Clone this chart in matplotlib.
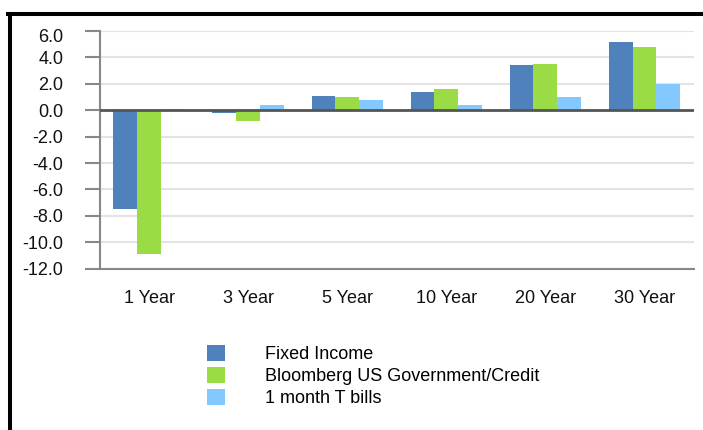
import matplotlib
matplotlib.use("Agg")
import matplotlib.pyplot as plt
import matplotlib.transforms as mtrans
import numpy as np
from matplotlib.lines import Line2D
from matplotlib.patches import Patch

plt.rcParams['font.family'] = ['Liberation Sans', 'DejaVu Sans']

periods = ["1 Year", "3 Year", "5 Year", "10 Year", "20 Year", "30 Year"]
fixed_income = [-7.5, -0.2, 1.1, 1.4, 3.4, 5.2]
gov_credit = [-10.9, -0.8, 1.0, 1.6, 3.5, 4.8]
t_bills = [0.1, 0.4, 0.8, 0.4, 1.0, 2.0]
series_names = ["Fixed Income", "Bloomberg US Government/Credit", "1 month T bills"]
colors = ["#4f81bd", "#9bdb46", "#83c9ff"]
yticks = [6.0, 4.0, 2.0, 0.0, -2.0, -4.0, -6.0, -8.0, -10.0, -12.0]

W, H = 703, 430
FS = 13
fig = plt.figure(figsize=(W / 100, H / 100), dpi=100)
ax = fig.add_axes([99.5 / W, (H - 268.7) / H, (694 - 99.5) / W, (268.7 - 31) / H])

x = np.arange(len(periods))
bw = 0.24
for i, (vals, c) in enumerate(zip([fixed_income, gov_credit, t_bills], colors)):
    ax.bar(x + (i - 1) * bw, vals, bw, color=c, zorder=3)

ax.set_xlim(-0.5, len(periods) - 0.5)
ax.set_ylim(-12, 6)
ax.set_yticks(yticks)
ax.set_yticklabels([f"{v:.1f}" for v in yticks], fontsize=FS, color="#111111")
ax.set_xticks(x)
ax.set_xticklabels(periods, fontsize=FS, color="#111111")
ax.tick_params(axis='x', length=0, pad=15)
ax.tick_params(axis='y', length=11, width=1.5, color="#888888", pad=15)

# top label sits a little lower than its gridline
top_lbl = ax.get_yticklabels()[0]
top_lbl.set_transform(top_lbl.get_transform() +
                      mtrans.ScaledTranslation(0, -5 / 100, fig.dpi_scale_trans))

ax.grid(axis='y', color="#e3e3e3", linewidth=1.5, zorder=0)
ax.axhline(0, color="#555555", linewidth=2, zorder=4)
for s in ['top', 'right']:
    ax.spines[s].set_visible(False)
ax.spines['left'].set_color("#888888")
ax.spines['left'].set_linewidth(1.5)
ax.spines['bottom'].set_color("#888888")
ax.spines['bottom'].set_linewidth(1.5)

handles = [Patch(facecolor=c, edgecolor='none') for c in colors]
fig.legend(handles, series_names, loc='upper left',
           bbox_to_anchor=(207 / W, (H - 345) / H),
           frameon=False, fontsize=FS, borderpad=0, borderaxespad=0,
           handlelength=1.0, handleheight=1.0, handletextpad=2.2,
           labelspacing=0.2)

# black frame along the top and left edges
fig.add_artist(Line2D([10 / W, 10 / W], [0, (H - 14) / H], color='black',
                      linewidth=2.9, transform=fig.transFigure))
fig.add_artist(Line2D([8 / W, 1], [(H - 14) / H, (H - 14) / H], color='black',
                      linewidth=2.9, transform=fig.transFigure))

fig.savefig("out.png", dpi=100)
